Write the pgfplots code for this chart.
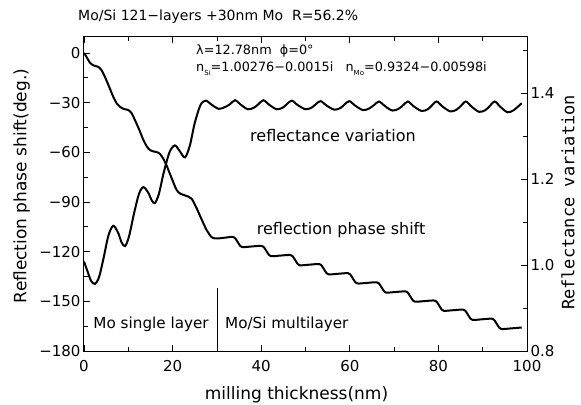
\documentclass[border=0pt]{standalone}
\usepackage{fontspec}
\setmainfont{DejaVu Sans}
\newfontfamily\monofont{DejaVu Sans Mono}
\usepackage{pgfplots}
\pgfplotsset{compat=1.18}
\begin{document}
\begin{tikzpicture}
\useasboundingbox (-84bp,-54bp) rectangle (497bp,351bp);
\begin{axis}[at={(0,0)}, anchor=south west, scale only axis,
  width=443bp, height=314bp,
  xmin=0, xmax=100, ymin=-180, ymax=9.7,
  xtick={0,20,...,100}, minor xtick={10,30,...,90},
  ytick={-180,-150,...,0}, yticklabels={−180,−150,−120,−90,−60,−30,0},
  minor ytick={-165,-135,...,-15},
  ytick pos=left, xtick pos=both, tick align=inside,
  major tick length=6bp, minor tick length=4bp,
  tick style={line width=0.8bp, black},
  axis line style={line width=1bp},
  /pgf/number format/assume math mode=true,
  tick label style={font=\fontsize{15bp}{18bp}\selectfont},
  xticklabel style={yshift=-6bp},
]
\addplot[black, line width=2bp, smooth] coordinates {
(0,0) (0.5,-2) (1.4,-6) (2.3,-7.6) (3.2,-8.3) (4.0,-10.5) (4.7,-14.3) (5.7,-20.5) (6.6,-26.4) (7.4,-30.5) (8.1,-32.4) (9.0,-33.8) (10.0,-34.4) (10.8,-36.5) (11.5,-40.5) (12.5,-46.5) (13.4,-52.5) (14.2,-56.5) (14.9,-58.6) (15.8,-59.5) (16.8,-60.2) (17.6,-62.5) (18.5,-67) (19.7,-75) (20.9,-82.7) (21.8,-85) (22.8,-86) (23.6,-86.8) (24.3,-88) (25.3,-93) (26.6,-100.8) (27.7,-107) (28.8,-111.2) (29.8,-112) (31,-111.8) (32.5,-111.3)
(33.6,-111) (34.3,-112.5) (35.0,-115.5) (35.7,-117.2) (37.85,-116.85)
(40.1,-116.5) (40.8,-118) (41.5,-121) (42.2,-122.7) (44.35,-122.35)
(46.6,-122) (47.3,-123.5) (48.0,-126.5) (48.7,-128.2) (50.85,-127.85)
(53.1,-127.5) (53.8,-129) (54.5,-132) (55.2,-133.7) (57.35,-133.35)
(59.6,-133) (60.3,-134.5) (61.0,-137.5) (61.7,-139.2) (63.85,-138.85)
(66.1,-138.5) (66.8,-140) (67.5,-143) (68.2,-144.7) (70.35,-144.35)
(72.6,-144) (73.3,-145.5) (74.0,-148.5) (74.7,-150.2) (76.85,-149.85)
(79.1,-149.5) (79.8,-151) (80.5,-154) (81.2,-155.7) (83.35,-155.35)
(85.6,-155) (86.3,-156.5) (87.0,-159.5) (87.7,-161.2) (89.85,-160.85)
(92.1,-160.5) (92.8,-162) (93.5,-165) (94.2,-166.7) (96.35,-166.35) (98.8,-165.8)
};
\addplot[black, line width=0.8bp] coordinates {(30,-180) (30,-142)};
\end{axis}
\begin{axis}[at={(0,0)}, anchor=south west, scale only axis,
  width=443bp, height=314bp,
  xmin=0, xmax=100, ymin=0.8, ymax=1.53,
  axis x line=none, axis y line*=right,
  ytick={0.8,1.0,1.2,1.4}, yticklabels={0.8,1.0,1.2,1.4},
  minor ytick={0.9,1.1,1.3,1.5},
  tick align=inside,
  major tick length=6bp, minor tick length=4bp,
  tick style={line width=0.8bp, black},
  axis line style={line width=1bp},
  /pgf/number format/assume math mode=true,
  tick label style={font=\fontsize{15bp}{18bp}\selectfont},
]
\addplot[black, line width=2bp, smooth] coordinates {
(0,1.008) (0.8,0.985) (1.6,0.963) (2.5,0.956) (3.4,0.972) (4.4,1.015) (5.5,1.068) (6.6,1.091) (7.7,1.075) (8.5,1.052) (9.3,1.044) (10.2,1.068) (11.3,1.12) (12.4,1.165) (13.4,1.181) (14.5,1.168) (15.3,1.150) (16,1.144) (16.9,1.165) (18.0,1.215) (19.3,1.262) (20.5,1.278) (21.6,1.265) (22.8,1.250) (23.9,1.278) (25.0,1.33) (26.3,1.372)
(27.5,1.382) (28.8,1.3725) (30.4,1.363) (31.8,1.367) (33.0,1.374)
(34.1,1.383) (35.4,1.3725) (37.0,1.362) (38.4,1.366) (39.4,1.374)
(40.5,1.383) (41.8,1.3725) (43.5,1.362) (44.9,1.366) (45.8,1.374)
(46.9,1.382) (48.2,1.372) (50.0,1.362) (51.4,1.366) (52.3,1.3735)
(53.4,1.381) (54.7,1.371) (56.5,1.361) (57.9,1.365) (58.8,1.373)
(59.9,1.381) (61.2,1.3705) (63.0,1.360) (64.4,1.364) (65.5,1.372)
(66.6,1.380) (67.9,1.3695) (69.6,1.359) (71.0,1.363) (72.0,1.371)
(73.1,1.380) (74.4,1.369) (76.2,1.358) (77.6,1.362) (78.5,1.3705)
(79.6,1.380) (80.9,1.3685) (82.7,1.357) (84.1,1.361) (85.1,1.370)
(86.2,1.380) (87.5,1.368) (89.2,1.356) (90.6,1.360) (91.6,1.3695)
(92.7,1.380) (94.0,1.3675) (95.6,1.355) (97.0,1.360) (98.8,1.376)
};
\end{axis}
% titles and labels
\node[anchor=west, inner sep=0, font=\fontsize{14bp}{17bp}\selectfont] at (-6bp,334bp) {Mo/Si 121−layers +30nm Mo\ \ R=56.2\%};
\node[anchor=base west, inner sep=0, font=\fontsize{12.8bp}{15bp}\selectfont] at (112bp,296bp) {λ=12.78nm\ \ ϕ=0°};
\node[anchor=base west, inner sep=0, font=\fontsize{12.8bp}{15bp}\selectfont] at (112bp,279bp) {n\raisebox{-0.45ex}{\fontsize{7bp}{8bp}\selectfont Si}=1.00276−0.0015i\ \ \ n\raisebox{-0.45ex}{\fontsize{7bp}{8bp}\selectfont Mo}=0.9324−0.00598i};
\node[anchor=west, inner sep=0, font=\fontsize{16bp}{19bp}\selectfont] at (166bp,215bp) {reflectance variation};
\node[anchor=west, inner sep=0, font=\fontsize{16bp}{19bp}\selectfont] at (172.7bp,121bp) {reflection phase shift};
\node[anchor=west, inner sep=0, font=\fontsize{15.2bp}{18bp}\selectfont] at (9.3bp,27bp) {Mo single layer};
\node[anchor=west, inner sep=0, font=\fontsize{15.2bp}{18bp}\selectfont] at (141bp,27bp) {Mo/Si multilayer};
\node[inner sep=0, font=\fontsize{17bp}{20bp}\selectfont] at (212.5bp,-44bp) {milling thickness(nm)};
\node[rotate=90, inner sep=0, font=\fontsize{17bp}{20bp}\selectfont] at (-62.3bp,165bp) {Reflection phase shift(deg.)};
\node[rotate=90, inner sep=0, font=\monofont\fontsize{17bp}{20bp}\selectfont] at (484bp,148.5bp) {Reflectance variation};
\end{tikzpicture}
\end{document}
